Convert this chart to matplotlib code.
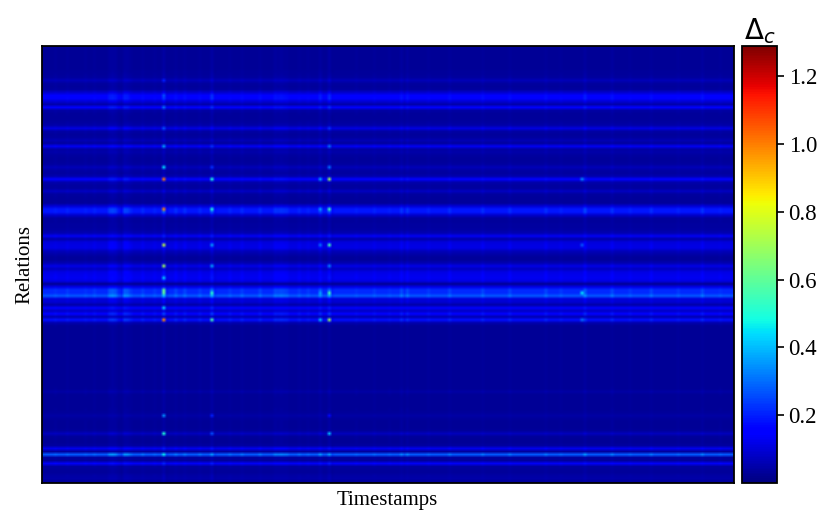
import numpy as np
import matplotlib
matplotlib.use("Agg")
import matplotlib.pyplot as plt

plt.rcParams["font.family"] = ["Liberation Serif", "DejaVu Serif"]
plt.rcParams["mathtext.fontset"] = "dejavusans"

N_COLS = 230
row_levels = [
    .030, .030, .030, .030, .030, .030, .030, .030, .032, .035,
    .040, .065, .040, .035, .040, .090, .150, .155, .100, .050,
    .150, .045, .035, .032, .032, .038, .050, .110, .045, .035,
    .038, .060, .040, .130, .045, .050, .038, .035, .035, .040,
    .065, .045, .038, .055, .150, .055, .038, .040, .075, .040,
    .035, .032, .035, .100, .190, .190, .090, .040, .035, .038,
    .038, .042, .060, .130, .050, .105, .115, .115, .070, .050,
    .035, .035, .060, .115, .075, .115, .125, .130, .115, .028,
    .120, .215, .215, .270, .105, .095, .050, .140, .080, .165,
    .060, .180, .055, .030, .028, .028, .028, .028, .028, .028,
    .028, .028, .028, .028, .028, .028, .028, .028, .028, .028,
    .028, .028, .028, .028, .030, .045, .030, .028, .028, .028,
    .028, .030, .032, .042, .032, .030, .030, .030, .034, .070,
    .034, .030, .030, .038, .125, .035, .275, .040, .035, .135,
    .038, .032, .032, .042, .046, .034,
]

# columns that are brighter or darker than the usual 1.0
gain_cols = [4, 8, 14, 17, 22, 23, 24, 26, 27, 28, 29, 33, 37, 40, 41, 44, 47,
             52, 56, 57, 62, 66, 72, 77, 78, 79, 80, 81, 85, 88, 92, 95, 96,
             104, 110, 115, 119, 121, 128, 135, 146, 155, 167, 172, 180, 189,
             195, 202, 211, 219, 225]
gain_vals = [1.05, 1.08, 1.05, 1.08, 1.25, 1.3, 1.22, .9, 1.3, 1.25, 1.1, 1.12, 1.08, 1.5, .9, 1.15, 1.15,
             1.12, 1.45, .92, 1.1, 1.12, 1.15, 1.18, 1.15, 1.18, 1.15, 1.12, 1.1, 1.08, 1.3, 1.4, .92,
             1.05, 1.08, 1.05, 1.18, 1.18, 1.08, 1.15, 1.15, 1.15, 1.15, 1.08, 1.3, 1.18,
             1.08, 1.15, 1.08, 1.18, 1.05]

# isolated hot cells along the bright columns
hot_rows = [11, 16, 20, 27, 33, 40, 44, 54, 66, 73, 77, 81, 82, 87, 91, 123, 129, 136,
            33, 40, 44, 54, 66, 73, 82, 91, 123, 129, 136,
            20, 27, 33, 40, 44, 54, 66, 73, 82, 91, 123, 129, 136,
            44, 54, 66, 82, 91,
            44, 66, 82, 91]
hot_cols = [40] * 18 + [56] * 11 + [95] * 13 + [92] * 5 + [179] * 4
hot_vals = [.2, .26, .3, .26, .36, .44, 1.0, .98, .75, .7, .42, .6, .6, .42, .98, .34, .5, .46,
            .22, .22, .5, .5, .36, .36, .52, .56, .2, .26, .36,
            .22, .22, .3, .3, .7, .55, .55, .32, .55, .7, .17, .4, .36,
            .36, .36, .3, .36, .4,
            .33, .27, .45, .3]

vmin, vmax = 0.0, 1.29

col_gain = np.ones(N_COLS)
col_gain[gain_cols] = gain_vals
delta = np.outer(row_levels, col_gain)
delta[hot_rows, hot_cols] = hot_vals

fig = plt.figure(figsize=(8.31, 5.24), dpi=100)
ax = fig.add_axes([41.5 / 831, 1 - 483 / 524, 692 / 831, 437 / 524])
cax = fig.add_axes([741.5 / 831, 1 - 483 / 524, 36 / 831, 437 / 524])

im = ax.imshow(delta, cmap="jet", vmin=vmin, vmax=vmax, aspect="auto",
               interpolation="bilinear")
ax.set_xticks([])
ax.set_yticks([])
ax.set_xlabel("Timestamps", fontsize=15, labelpad=6)
ax.set_ylabel("Relations", fontsize=15, labelpad=5)
for s in ax.spines.values():
    s.set_linewidth(1.3)

cb = fig.colorbar(im, cax=cax)
cb.set_ticks([0.2, 0.4, 0.6, 0.8, 1.0, 1.2])
cb.ax.tick_params(labelsize=16.5, length=5, width=1.2, pad=3)
cb.outline.set_linewidth(1.3)
cax.set_title(r"$\Delta_c$", fontsize=20, pad=4)

fig.savefig("out.png", dpi=100)
